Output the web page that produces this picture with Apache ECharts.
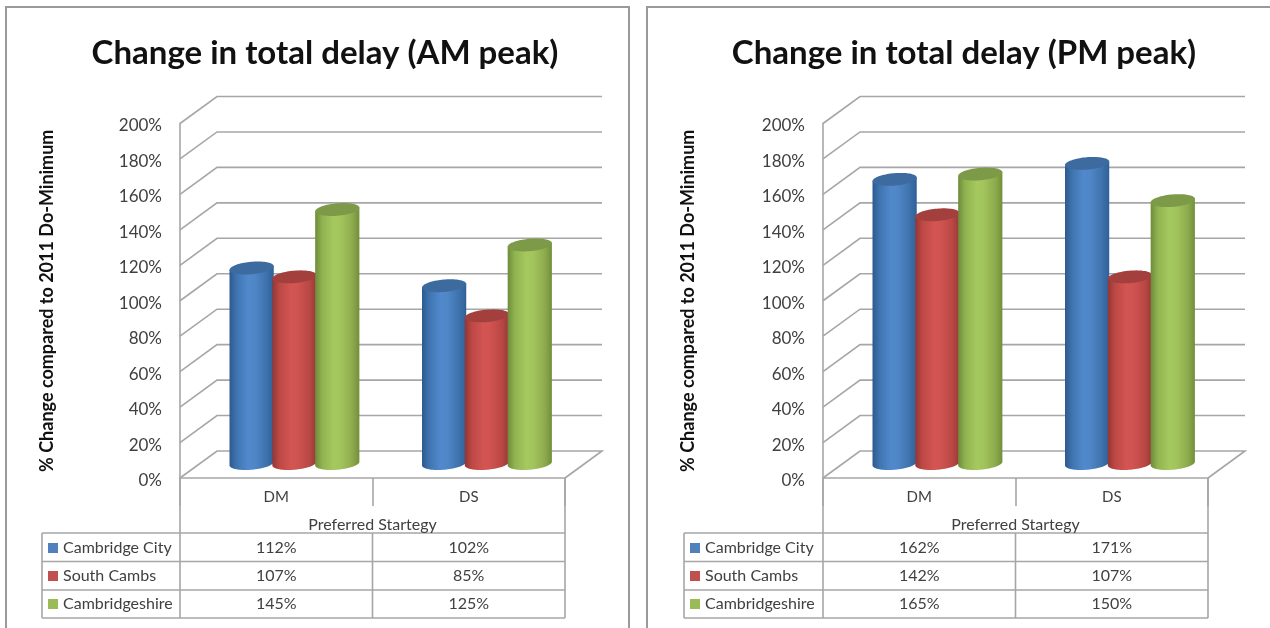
<!DOCTYPE html>
<html>
<head>
<meta charset="utf-8">
<style>
html,body{margin:0;padding:0;background:#fff;}
#chart{width:1270px;height:628px;filter:blur(0.45px);}
</style>
<script src="https://cdn.jsdelivr.net/npm/echarts@6/dist/echarts.min.js"></script>
</head>
<body>
<div id="chart"></div>
<script>
const categories = ['DM', 'DS'];
const seriesNames = ['Cambridge City', 'South Cambs', 'Cambridgeshire'];
const cityAM = [112, 102];
const southAM = [107, 85];
const shireAM = [145, 125];
const cityPM = [162, 171];
const southPM = [142, 107];
const shirePM = [165, 150];
const yTicks = [0, 20, 40, 60, 80, 100, 120, 140, 160, 180, 200];
const titles = ['Change in total delay (AM peak)', 'Change in total delay (PM peak)'];
const yAxisName = '% Change compared to 2011 Do-Minimum';
const xAxisName = 'Preferred Startegy';

const FONT = 'Lato, Carlito, sans-serif';
const LINE = '#a6a6a6';
const TEXT = '#404040';
const DX = 37, DY = -27;
const FRONT_BOTTOM = 478, FRONT_TOP = 123.5;
const ROW_Y = [547.5, 575.5, 603.5];
const panels = [
  {left: 180, right: 565, tableLeft: 42, titleX: 320, nameGap: 124},
  {left: 823, right: 1208, tableLeft: 684, titleX: 959, nameGap: 126}
];
const palettes = [
  {base: '#4f81bd', top: '#3d6b9f', stops: ['#2c5a8f', '#3f74b0', '#5089cc', '#4f86c6', '#3e72ad', '#2f5f97']},
  {base: '#c0504d', top: '#a3403d', stops: ['#933634', '#bd4845', '#d25552', '#cf5350', '#b94744', '#983835']},
  {base: '#9bbb59', top: '#7d9a48', stops: ['#6e8b3a', '#90b350', '#a5c85f', '#a2c45c', '#8dab4d', '#728f3a']}
];
const gradOffsets = [0, 0.16, 0.42, 0.58, 0.84, 1];

function wallItem(params, api) {
  const cs = params.coordSys;
  const y = api.coord([0, api.value(1)])[1];
  const lineStyle = {stroke: LINE, lineWidth: 1.6, fill: 'none'};
  const pts = [[cs.x, y], [cs.x + DX, y + DY], [cs.x + cs.width + DX, y + DY]];
  if (api.value(1) === 0) pts.push([cs.x + cs.width, y]);
  return {type: 'polyline', shape: {points: pts}, style: lineStyle, silent: true};
}

function ellipsePoint(cx, cy, rx, ry, t) {
  const tilt = -5 * Math.PI / 180;
  const ex = rx * Math.cos(t), ey = ry * Math.sin(t);
  return [cx + ex * Math.cos(tilt) - ey * Math.sin(tilt), cy + ex * Math.sin(tilt) + ey * Math.cos(tilt)];
}

function cylinderItemFor(seriesIndex) {
  return function (params, api) {
    const band = api.size([1, 0])[0];
    const step = band * 0.2225;
    const value = api.value(1);
    const c = api.coord([api.value(0), value]);
    const z = api.coord([api.value(0), 0]);
    const cx = c[0] + DX / 2 + (seriesIndex - 1) * step - 0.3;
    const topY = c[1] - 11.5;
    const baseY = z[1] - 14.5;
    const rx = 22.2, ry = 6.2;
    const pal = palettes[seriesIndex];
    const body = [];
    const N = 40;
    for (let i = 0; i <= N; i++) body.push(ellipsePoint(cx, baseY, rx, ry, Math.PI * i / N));
    body.push(ellipsePoint(cx, topY, rx, ry, Math.PI));
    body.push(ellipsePoint(cx, topY, rx, ry, 0));
    const top = [];
    for (let i = 0; i < 2 * N; i++) top.push(ellipsePoint(cx, topY, rx, ry, Math.PI * i / N));
    return {
      type: 'group',
      children: [
        {type: 'polygon', shape: {points: body}, style: {
          fill: {type: 'linear', x: 0, y: 0, x2: 1, y2: 0, global: false,
            colorStops: pal.stops.map((col, i) => ({offset: gradOffsets[i], color: col}))}
        }},
        {type: 'polygon', shape: {points: top}, style: {fill: pal.top}},
        {type: 'text', style: {
          text: value + '%', x: z[0], y: ROW_Y[seriesIndex], align: 'center', verticalAlign: 'middle',
          font: '16px ' + FONT, fill: TEXT
        }}
      ]
    };
  };
}

const tableLines = [];
panels.forEach((p) => {
  const mid = (p.left + p.right) / 2;
  const add = (x1, y1, x2, y2) => tableLines.push({
    type: 'line', silent: true, shape: {x1, y1, x2, y2},
    style: {stroke: LINE, lineWidth: 1.6}
  });
  add(p.left, FRONT_BOTTOM, p.left, 618);
  add(p.right, FRONT_BOTTOM, p.right, 618);
  add(mid, 533, mid, 618);
  [533, 561.5, 590, 618].forEach((y) => add(p.tableLeft, y, p.right, y));
  add(p.tableLeft, 533, p.tableLeft, 618);
});
const frames = [
  {type: 'polyline', silent: true, shape: {points: [[6, 628], [6, 7], [629, 7], [629, 628]]}, style: {stroke: '#9a9a9a', lineWidth: 2, fill: 'none'}},
  {type: 'polyline', silent: true, shape: {points: [[647, 628], [647, 7], [1270, 7]]}, style: {stroke: '#9a9a9a', lineWidth: 2, fill: 'none'}}
];

const dataSets = [[cityAM, southAM, shireAM], [cityPM, southPM, shirePM]];
const series = [];
panels.forEach((p, pi) => {
  series.push({
    type: 'custom', xAxisIndex: pi, yAxisIndex: pi, z: 1, silent: true, clip: false,
    renderItem: wallItem,
    encode: {x: 0, y: 1},
    data: yTicks.map(t => [0, t])
  });
  dataSets[pi].forEach((vals, si) => {
    series.push({
      type: 'custom', name: seriesNames[si], xAxisIndex: pi, yAxisIndex: pi, z: 3 + si, silent: true, clip: false,
      itemStyle: {color: palettes[si].base},
      renderItem: cylinderItemFor(si),
      encode: {x: 0, y: 1},
      data: vals.map((v, i) => [i, v])
    });
  });
});

const option = {
  backgroundColor: '#fff',
  animation: false,
  title: panels.map((p, i) => ({
    text: titles[i], left: p.titleX, top: 32, textAlign: 'center',
    textStyle: {fontFamily: FONT, fontWeight: 'bold', fontSize: 33, color: '#111'}
  })),
  legend: panels.map((p) => ({
    orient: 'vertical', left: p.tableLeft + 6, top: 540, itemWidth: 10, itemHeight: 10, itemGap: 12,
    padding: 0, selectedMode: false, icon: 'rect', data: seriesNames,
    textStyle: {fontFamily: FONT, fontSize: 16, color: TEXT, lineHeight: 16}
  })),
  grid: panels.map((p) => ({
    left: p.left, width: p.right - p.left, top: FRONT_TOP, height: FRONT_BOTTOM - FRONT_TOP, containLabel: false
  })),
  xAxis: panels.map((p, i) => ({
    type: 'category', gridIndex: i, data: categories,
    axisLine: {show: true, lineStyle: {color: LINE, width: 1.6}},
    axisTick: {show: true, length: 28, inside: false, alignWithLabel: false, lineStyle: {color: LINE, width: 1.6}},
    axisLabel: {fontFamily: FONT, fontSize: 15, color: TEXT, margin: 12},
    name: xAxisName, nameLocation: 'middle', nameGap: 39,
    nameTextStyle: {fontFamily: FONT, fontSize: 16, color: TEXT}
  })),
  yAxis: panels.map((p, i) => ({
    type: 'value', gridIndex: i, min: 0, max: 200, interval: 20,
    axisLine: {show: true, lineStyle: {color: LINE, width: 1.6}},
    axisTick: {show: false},
    splitLine: {show: false},
    axisLabel: {
      margin: 18,
      formatter: '{v|{value}%}',
      rich: {v: {fontFamily: FONT, fontSize: 17, color: TEXT, padding: [5, 0, 0, 0]}}
    },
    name: yAxisName, nameLocation: 'middle', nameGap: p.nameGap, nameRotate: 90,
    nameTextStyle: {fontFamily: FONT, fontWeight: 'bold', fontSize: 18, color: '#111'}
  })),
  graphic: {elements: frames.concat(tableLines)},
  series: series
};
const chart = echarts.init(document.getElementById('chart'), null, {renderer: 'canvas'});
chart.setOption(option);
</script>
</body>
</html>
